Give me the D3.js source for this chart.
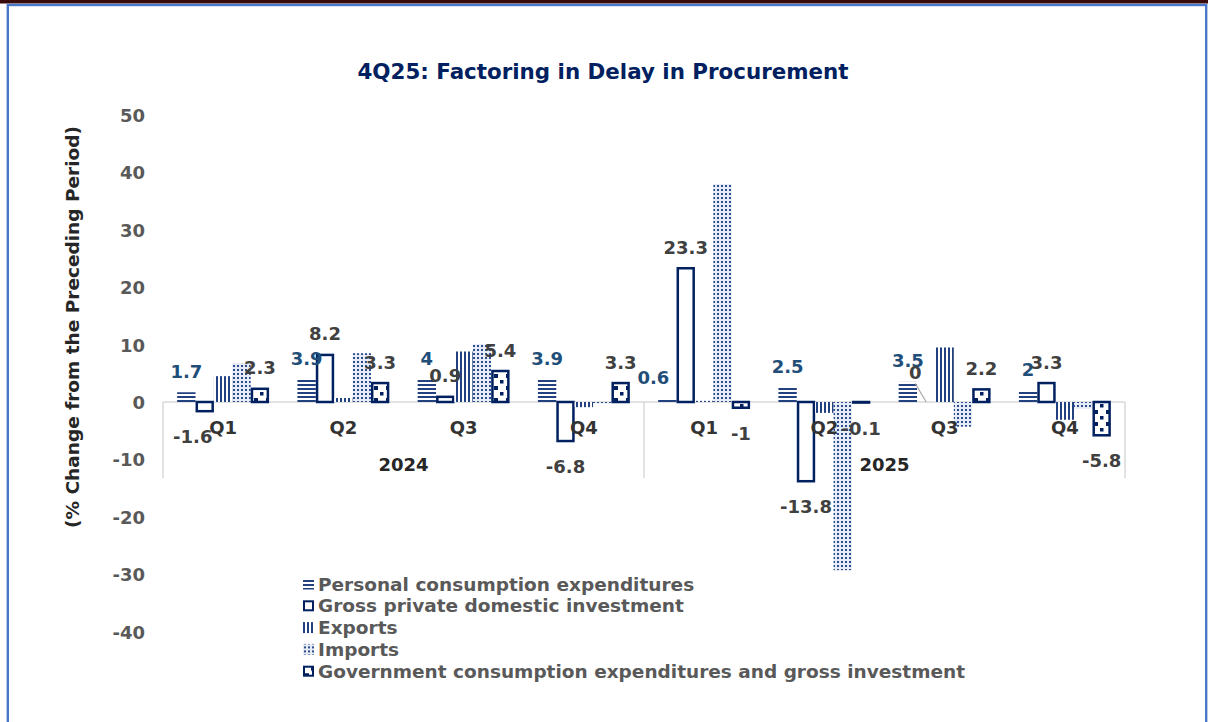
<!DOCTYPE html>
<html>
<head>
<meta charset="utf-8">
<script src="https://cdn.jsdelivr.net/npm/d3@7"></script>
<style>
  body { margin: 0; background: #fff; }
  text { font-family: "DejaVu Sans", Verdana, sans-serif; font-weight: bold; }
</style>
</head>
<body>
<div id="chart"></div>
<script>
// Chart data
var quarters = ["Q1", "Q2", "Q3", "Q4", "Q1", "Q2", "Q3", "Q4"];
var years = ["2024", "2025"];
var seriesNames = [
  "Personal consumption expenditures",
  "Gross private domestic investment",
  "Exports",
  "Imports",
  "Government consumption expenditures and gross investment"
];
var pce     = [1.7, 3.9, 4, 3.9, 0.6, 2.5, 3.5, 2];
var gpdi    = [-1.6, 8.2, 0.9, -6.8, 23.3, -13.8, 0, 3.3];
var exports = [4.5, 0.7, 8.8, -0.9, 0.2, -1.9, 9.5, -3.1];
var imports = [6.8, 8.5, 10.1, -0.3, 38.0, -29.3, -4.3, -1.2];
var gov     = [2.3, 3.3, 5.4, 3.3, -1, -0.1, 2.2, -5.8];
var yTicks  = [50, 40, 30, 20, 10, 0, -10, -20, -30, -40];

var seriesValues = [pce, gpdi, exports, imports, gov];
var labelled = [true, true, false, false, true];

var W = 1208, H = 722;
var plot = {left: 163, right: 1125, top: 115, bottom: 631.6};
var navy = "#002060";

var svg = d3.select("#chart").append("svg")
    .attr("width", W)
    .attr("height", H);

// frame
svg.append("rect").attr("x", 0).attr("y", 0).attr("width", W).attr("height", 3.5)
    .attr("fill", "#3a0a0a");
svg.append("rect").attr("x", 7.8).attr("y", 5).attr("width", 1198.4).attr("height", 760)
    .attr("fill", "none").attr("stroke", "#4a78c8").attr("stroke-width", 2.4);

// fill patterns
var defs = svg.append("defs");
var pH = defs.append("pattern").attr("id", "pat-h").attr("patternUnits", "userSpaceOnUse")
    .attr("width", 4).attr("height", 4);
pH.append("rect").attr("width", 4).attr("height", 4).attr("fill", "#ffffff");
pH.append("rect").attr("width", 4).attr("height", 2).attr("fill", "#24417f");

var pV = defs.append("pattern").attr("id", "pat-v").attr("patternUnits", "userSpaceOnUse")
    .attr("width", 4).attr("height", 4);
pV.append("rect").attr("width", 4).attr("height", 4).attr("fill", "#ffffff");
pV.append("rect").attr("width", 2).attr("height", 4).attr("fill", "#24417f");

var pD = defs.append("pattern").attr("id", "pat-d").attr("patternUnits", "userSpaceOnUse")
    .attr("width", 4).attr("height", 4);
pD.append("rect").attr("width", 4).attr("height", 4).attr("fill", "#e6ecf6");
pD.append("rect").attr("x", 1).attr("y", 1).attr("width", 2).attr("height", 2).attr("fill", "#2c4a8c");

var pC = defs.append("pattern").attr("id", "pat-c").attr("patternUnits", "userSpaceOnUse")
    .attr("width", 12).attr("height", 12);
pC.append("rect").attr("width", 12).attr("height", 12).attr("fill", "#ffffff");
pC.append("rect").attr("x", 2).attr("y", 2).attr("width", 4).attr("height", 4).attr("fill", navy);
pC.append("rect").attr("x", 8).attr("y", 8).attr("width", 3.5).attr("height", 3.5).attr("fill", navy);

var fills = ["url(#pat-h)", "#ffffff", "url(#pat-v)", "url(#pat-d)", "url(#pat-c)"];
var strokes = ["none", navy, "none", "none", navy];
var strokeW = [0, 2.5, 0, 0, 2.5];

// scales
var x0 = d3.scaleBand()
    .domain(d3.range(quarters.length))
    .range([plot.left, plot.right]);
var x1 = d3.scaleBand()
    .domain(d3.range(seriesNames.length))
    .range([0, x0.bandwidth()])
    .paddingOuter(0.77);
var y = d3.scaleLinear()
    .domain([-40, 50])
    .range([plot.bottom, plot.top]);

// title
svg.append("text")
    .attr("x", 603).attr("y", 79)
    .attr("text-anchor", "middle")
    .style("font-size", "21.4px")
    .style("fill", navy)
    .text("4Q25: Factoring in Delay in Procurement");

// y axis tick labels (axis line hidden, like the original)
var yAxis = svg.append("g")
    .attr("transform", "translate(145,0)")
    .call(d3.axisLeft(y).tickValues(yTicks).tickSize(0).tickPadding(0)
      .tickFormat(function(d) { return String(d); }));
yAxis.select(".domain").remove();
yAxis.selectAll("text")
    .attr("dy", "0.36em")
    .style("font-family", "DejaVu Sans, Verdana, sans-serif")
    .style("font-weight", "bold")
    .style("font-size", "18px")
    .style("fill", "#595959");

// y axis title
svg.append("text")
    .attr("transform", "translate(79,327) rotate(-90)")
    .attr("text-anchor", "middle")
    .style("font-size", "18.5px")
    .style("fill", "#262626")
    .text("(% Change from the Preceding Period)");

// zero line and category dividers
svg.append("line")
    .attr("x1", plot.left).attr("x2", plot.right)
    .attr("y1", y(0)).attr("y2", y(0))
    .attr("stroke", "#d9d9d9").attr("stroke-width", 1.5);
[0, 4, 8].forEach(function(i) {
  var xx = i < 8 ? x0(i) : plot.right;
  svg.append("line")
    .attr("x1", xx).attr("x2", xx)
    .attr("y1", y(0)).attr("y2", y(0) + 76)
    .attr("stroke", "#d9d9d9").attr("stroke-width", 1.5);
});

// bars
seriesValues.forEach(function(vals, s) {
  svg.append("g").selectAll("rect")
    .data(vals)
    .enter().append("rect")
      .attr("x", function(d, i) { return x0(i) + x1(s) + strokeW[s] / 2; })
      .attr("width", x1.bandwidth() - strokeW[s])
      .attr("y", function(d) { return y(Math.max(0, d)); })
      .attr("height", function(d) { return Math.abs(y(d) - y(0)); })
      .attr("fill", fills[s])
      .attr("stroke", strokes[s])
      .attr("stroke-width", strokeW[s]);
});

// data labels (a few were moved by hand in the original)
var nudge = {"0-4": [-14, 0], "1-0": [-12, 0], "1-6": [-11, -9]};
seriesValues.forEach(function(vals, s) {
  if (!labelled[s]) return;
  vals.forEach(function(d, i) {
    var cx = x0(i) + x1(s) + x1.bandwidth() / 2;
    var by = d >= 0 ? y(d) - 14.5 : y(d) + 32;
    var n = nudge[s + "-" + i] || [0, 0];
    svg.append("text")
      .attr("x", cx + n[0]).attr("y", by + n[1])
      .attr("text-anchor", "middle")
      .style("font-size", "18px")
      .style("fill", s === 0 ? "#1f4e79" : "#404040")
      .text(String(d));
    if (s === 1 && i === 6) {
      svg.append("line")
        .attr("x1", cx + n[0]).attr("y1", by + n[1] + 5)
        .attr("x2", cx).attr("y2", y(0))
        .attr("stroke", "#a6a6a6").attr("stroke-width", 1.2);
    }
  });
});

// category labels
svg.append("g").selectAll("text")
  .data(quarters)
  .enter().append("text")
    .attr("x", function(d, i) { return x0(i) + x0.bandwidth() / 2; })
    .attr("y", 434)
    .attr("text-anchor", "middle")
    .style("font-size", "18px")
    .style("fill", "#333333")
    .text(function(d) { return d; });
svg.append("g").selectAll("text")
  .data(years)
  .enter().append("text")
    .attr("x", function(d, i) { return (x0(i * 4) + (i === 0 ? x0(4) : plot.right)) / 2; })
    .attr("y", 471)
    .attr("text-anchor", "middle")
    .style("font-size", "18px")
    .style("fill", "#262626")
    .text(function(d) { return d; });

// legend
var legend = svg.append("g").attr("transform", "translate(303,584)");
seriesNames.forEach(function(name, s) {
  var row = legend.append("g").attr("transform", "translate(0," + (s * 21.8) + ")");
  var sw = strokeW[s] ? 2 : 0;
  row.append("rect")
    .attr("x", sw / 2).attr("y", -5.5 + sw / 2)
    .attr("width", 11 - sw).attr("height", 11 - sw)
    .attr("fill", fills[s])
    .attr("stroke", strokes[s])
    .attr("stroke-width", sw);
  row.append("text")
    .attr("x", 15).attr("y", 6.5)
    .style("font-size", "18.5px")
    .style("fill", "#595959")
    .text(name);
});
</script>
</body>
</html>
